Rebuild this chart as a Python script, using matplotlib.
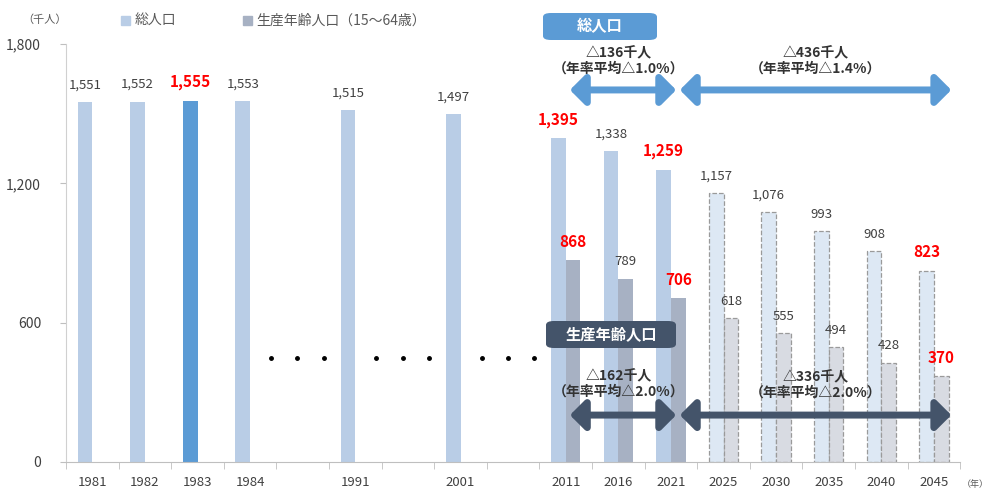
import matplotlib.pyplot as plt
from matplotlib.patches import FancyBboxPatch, FancyArrowPatch

plt.rcParams['font.family'] = ['Noto Sans CJK JP', 'DejaVu Sans']

# data (slot labels, '' = gap with dots)
years = ['1981', '1982', '1983', '1984', '', '1991', '', '2001', '',
         '2011', '2016', '2021', '2025', '2030', '2035', '2040', '2045']
total = [1551, 1552, 1555, 1553, None, 1515, None, 1497, None,
         1395, 1338, 1259, 1157, 1076, 993, 908, 823]
working = [None] * 9 + [868, 789, 706, 618, 555, 494, 428, 370]
highlight = ['1983', '2011', '2021', '2045']
projected = ['2025', '2030', '2035', '2040', '2045']

c_total = '#b9cde6'
c_total_hi = '#5b9bd5'
c_total_proj = '#dde8f4'
c_work = '#a7b1c3'
c_work_proj = '#d8dbe2'
c_navy = '#44546a'

fig = plt.figure(figsize=(9.94, 4.94), dpi=100)
ax = fig.add_axes([0.0664, 0.0648, 0.8996, 0.8462])

w = 0.28
for i, yr in enumerate(years):
    if total[i] is None:
        continue
    has_work = working[i] is not None
    x0 = i - w
    proj = yr in projected
    hi = yr in highlight
    if proj:
        ax.bar(x0, total[i], width=w, align='edge', color=c_total_proj,
               edgecolor='#9a9a9a', linestyle='--', linewidth=0.9)
    else:
        col = c_total_hi if yr == '1983' else c_total
        ax.bar(x0, total[i], width=w, align='edge', color=col)
    ax.text(x0 + w / 2, total[i] + 45, f'{total[i]:,}', ha='center', va='bottom',
            color='red' if hi else '#404040', fontsize=11 if hi else 9.5,
            fontweight='bold' if hi else 'normal')
    if has_work:
        if proj:
            ax.bar(i, working[i], width=w, align='edge', color=c_work_proj,
                   edgecolor='#9a9a9a', linestyle='--', linewidth=0.9)
        else:
            ax.bar(i, working[i], width=w, align='edge', color=c_work)
        ax.text(i + w / 2, working[i] + 45, f'{working[i]:,}', ha='center', va='bottom',
                color='red' if hi else '#404040', fontsize=11 if hi else 9.5,
                fontweight='bold' if hi else 'normal')

# dots in the gaps
for i, yr in enumerate(years):
    if yr == '':
        for dx in (-0.6, -0.1, 0.4):
            ax.plot(i + dx, 448, 'o', color='black', markersize=2.5)

ax.set_xlim(-0.5, len(years) - 0.5)
ax.set_ylim(0, 1800)
ax.set_yticks([0, 600, 1200, 1800])
ax.set_yticklabels(['0', '600', '1,200', '1,800'], fontsize=10, color='#404040')
ax.set_xticks(range(len(years)))
ax.set_xticklabels(years, fontsize=9.5, color='#404040')
ax.set_xticks([i - 0.5 for i in range(len(years) + 1)], minor=True)
ax.tick_params(axis='x', which='major', length=0, pad=10)
ax.tick_params(axis='x', which='minor', length=5, color='#bfbfbf')
ax.tick_params(axis='y', length=4, color='#bfbfbf', pad=14)
for s in ['top', 'right']:
    ax.spines[s].set_visible(False)
ax.spines['left'].set_color('#d0d0d0')
ax.spines['bottom'].set_color('#bfbfbf')


def arrow(x1, x2, y, col):
    ax.add_patch(FancyArrowPatch((x1, y), (x2, y), arrowstyle='<|-|>,head_length=6,head_width=6',
                                 mutation_scale=1.5, color=col, linewidth=5, shrinkA=0, shrinkB=0))


arrow(9.08, 11.1, 1602, c_total_hi)
arrow(11.17, 16.33, 1602, c_total_hi)
arrow(9.08, 11.1, 202, c_navy)
arrow(11.17, 16.33, 202, c_navy)

txt = dict(ha='center', va='center', fontsize=10, fontweight='bold', color='#333333', linespacing=1.1)
ax.text(10.0, 1725, '△136千人\n（年率平均△1.0%）', **txt)
ax.text(13.75, 1725, '△436千人\n（年率平均△1.4%）', **txt)
ax.text(10.0, 335, '△162千人\n（年率平均△2.0%）', **txt)
ax.text(13.75, 330, '△336千人\n（年率平均△2.0%）', **txt)

# boxed titles (figure coords)
fig.patches.append(FancyBboxPatch((543 / 994, 1 - 40 / 494), 114 / 994, 27 / 494,
                                  boxstyle='round,pad=0,rounding_size=0.008', transform=fig.transFigure,
                                  facecolor=c_total_hi, edgecolor='none'))
fig.text(600 / 994, 1 - 26 / 494, '総人口', ha='center', va='center', color='white',
         fontsize=11, fontweight='bold')
fig.patches.append(FancyBboxPatch((546 / 994, 1 - 348 / 494), 130 / 994, 27 / 494,
                                  boxstyle='round,pad=0,rounding_size=0.008', transform=fig.transFigure,
                                  facecolor=c_navy, edgecolor='none'))
fig.text(611 / 994, 1 - 334 / 494, '生産年齢人口', ha='center', va='center', color='white',
         fontsize=11, fontweight='bold')

# legend and units
fig.text(22 / 994, 1 - 20 / 494, '（千人）', ha='left', va='center', fontsize=8, color='#595959')
fig.patches.append(plt.Rectangle((121 / 994, 1 - 25 / 494), 9 / 994, 9 / 494,
                                 transform=fig.transFigure, color=c_total))
fig.text(135 / 994, 1 - 21 / 494, '総人口', ha='left', va='center', fontsize=10, color='#595959')
fig.patches.append(plt.Rectangle((243 / 994, 1 - 25 / 494), 9 / 994, 9 / 494,
                                 transform=fig.transFigure, color=c_work))
fig.text(256 / 994, 1 - 21 / 494, '生産年齢人口（15～64歳）', ha='left', va='center',
         fontsize=10, color='#595959')
fig.text(962 / 994, 1 - 484 / 494, '（年）', ha='left', va='center', fontsize=6.5, color='#595959')

fig.savefig('out.png', dpi=100)
